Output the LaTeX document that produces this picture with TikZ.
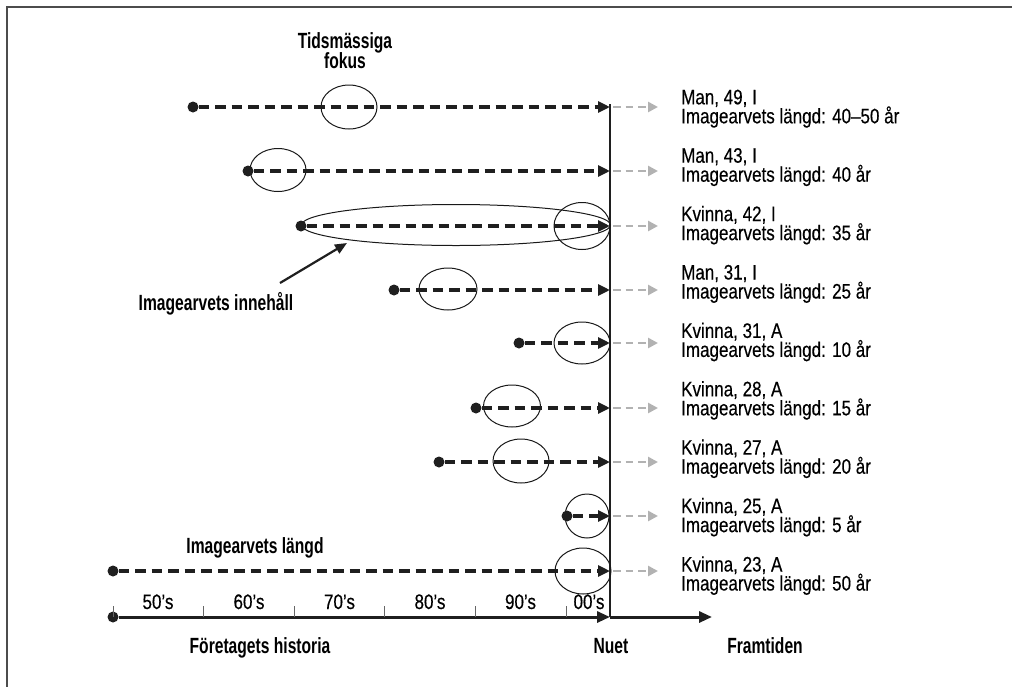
\documentclass[tikz,border=0pt]{standalone}
\usepackage{fontspec}
\setmainfont[FakeStretch=0.81,FakeBold=0.35]{Liberation Sans}
\newfontfamily\labfont[FakeStretch=0.71]{Liberation Sans}
\usetikzlibrary{arrows.meta,shapes.geometric}
\tikzset{
  hist/.style={draw=black!88, line width=3.1pt, dash pattern=on 10.5pt off 6pt, -{Triangle[length=12pt,width=11pt]}},
  fut/.style={draw=black!30, line width=2.9pt, dash pattern=on 7.5pt off 5pt, -{Triangle[length=10pt,width=10pt]}},
  startdot/.style={circle, fill=black!88, inner sep=0pt, minimum size=11pt},
  focus/.style={ellipse, draw=black!90, line width=1pt, inner sep=0pt},
  txt/.style={anchor=base west, inner sep=0pt, font=\fontsize{21}{19}\selectfont},
  ticklab/.style={anchor=base, inner sep=0pt, font=\fontsize{21}{19}\selectfont},
  lab/.style={anchor=base, inner sep=0pt, font=\labfont\bfseries\fontsize{22}{20}\selectfont},
  axis/.style={draw=black!88, line width=3pt, -{Triangle[length=13pt,width=11pt]}},
  tickmark/.style={draw=black!60, line width=1pt},
  frame/.style={draw=black!70, line width=2pt},
  annot/.style={draw=black!88, line width=2.2pt, -{Triangle[length=12pt,width=10pt]}}
}
\begin{document}
\begin{tikzpicture}[x=1pt,y=-1pt]
\useasboundingbox (0,0) rectangle (1012,686);
\draw[frame] (7,690) -- (7,7) -- (1016,7);

% vertical "now" line
\coordinate (nowtop) at (610,104);
\coordinate (now) at (610,617);
\draw[draw=black!88, line width=2.4pt] (nowtop) -- (now);

% ellipses (focus)
\node[focus, minimum width=56pt, minimum height=44pt] (f1) at (349,107) {};
\node[focus, minimum width=56pt, minimum height=43pt] (f2) at (278,170) {};
\node[focus, minimum width=309pt, minimum height=41pt] (big) at (456,225) {};
\node[focus, minimum width=56pt, minimum height=47pt] (f3) at (582,226) {};
\node[focus, minimum width=58pt, minimum height=42pt] (f4) at (448,289) {};
\node[focus, minimum width=56pt, minimum height=42pt] (f5) at (582,343) {};
\node[focus, minimum width=57pt, minimum height=42pt] (f6) at (512,406) {};
\node[focus, minimum width=56pt, minimum height=44pt] (f7) at (521,461) {};
\node[focus, minimum width=44pt, minimum height=44pt] (f8) at (587,516) {};
\node[focus, minimum width=56pt, minimum height=46pt] (f9) at (583,571) {};

% rows
\node[startdot] (d1) at (193,107) {}; \coordinate (e1) at (610,107);
\node[startdot] (d2) at (248,171) {}; \coordinate (e2) at (610,171);
\node[startdot] (d3) at (301,226) {}; \coordinate (e3) at (610,226);
\node[startdot] (d4) at (394,290) {}; \coordinate (e4) at (610,290);
\node[startdot] (d5) at (519,343) {}; \coordinate (e5) at (610,343);
\node[startdot] (d6) at (476,408) {}; \coordinate (e6) at (610,408);
\node[startdot] (d7) at (439,462) {}; \coordinate (e7) at (610,462);
\node[startdot] (d8) at (567,516) {}; \coordinate (e8) at (610,516);
\node[startdot] (d9) at (113,571) {}; \coordinate (e9) at (610,571);
\foreach \i in {1,...,9} {\draw[hist] (d\i) -- (e\i);}

% future arrows
\foreach \i/\y in {1/107,2/171,3/226,4/290,5/343,6/408,7/462,8/516,9/571} {
  \coordinate (g\i s) at (613,\y);
  \coordinate (g\i e) at (658,\y);
  \draw[fut] (g\i s) -- (g\i e);
}

% right labels
\node[txt] (l1a) at (681,104.3) {Man, 49, I};
\node[txt] (l1b) at (681,123.3) {Imagearvets längd: 40–50 år};
\node[txt] (l2a) at (681,162.7) {Man, 43, I};
\node[txt] (l2b) at (681,181.7) {Imagearvets längd: 40 år};
\node[txt] (l3a) at (681,221.1) {Kvinna, 42, I};
\node[txt] (l3b) at (681,240.1) {Imagearvets längd: 35 år};
\node[txt] (l4a) at (681,279.5) {Man, 31, I};
\node[txt] (l4b) at (681,298.5) {Imagearvets längd: 25 år};
\node[txt] (l5a) at (681,337.9) {Kvinna, 31, A};
\node[txt] (l5b) at (681,356.9) {Imagearvets längd: 10 år};
\node[txt] (l6a) at (681,396.3) {Kvinna, 28, A};
\node[txt] (l6b) at (681,415.3) {Imagearvets längd: 15 år};
\node[txt] (l7a) at (681,454.7) {Kvinna, 27, A};
\node[txt] (l7b) at (681,473.7) {Imagearvets längd: 20 år};
\node[txt] (l8a) at (681,513.1) {Kvinna, 25, A};
\node[txt] (l8b) at (681,532.1) {Imagearvets längd: 5 år};
\node[txt] (l9a) at (681,571.5) {Kvinna, 23, A};
\node[txt] (l9b) at (681,590.5) {Imagearvets längd: 50 år};

% axis
\node[startdot] (a0) at (113,617) {};
\coordinate (fut) at (712,617);
\draw[axis] (a0) -- (now);
\draw[axis] (now) -- (fut);
\foreach \k/\x in {0/113,1/203.6,2/294.2,3/384.8,4/475.4,5/566} {
  \coordinate (t\k) at (\x,617);
  \draw[tickmark] (t\k) -- ++(0,-11);
}
\node[ticklab] (y50) at (158,609) {50’s};
\node[ticklab] (y60) at (249,609) {60’s};
\node[ticklab] (y70) at (339.5,609) {70’s};
\node[ticklab] (y80) at (430,609) {80’s};
\node[ticklab] (y90) at (520.5,609) {90’s};
\node[ticklab] (y00) at (589,609) {00’s};

% bold labels
\node[lab] (tf1) at (345,48) {Tidsmässiga};
\node[lab] (tf2) at (345,68) {fokus};
\node[lab] (inn) at (216,310) {Imagearvets innehåll};
\node[lab] (lgd) at (255,553) {Imagearvets längd};
\node[lab] (hist) at (260,653) {Företagets historia};
\node[lab] (nuet) at (611,653) {Nuet};
\node[lab] (fram) at (765,653) {Framtiden};

% annotation arrow
\coordinate (anntail) at (280,283);
\coordinate (annhead) at (347,243);
\draw[annot] (anntail) -- (annhead);
\end{tikzpicture}
\end{document}
